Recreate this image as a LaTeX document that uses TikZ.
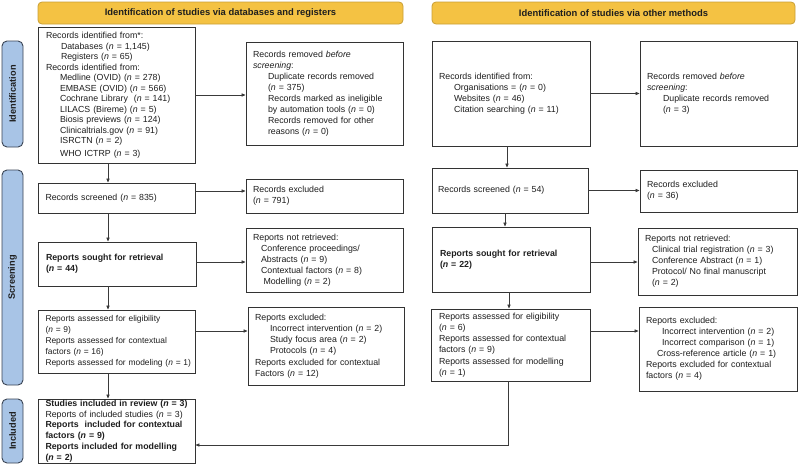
\documentclass[tikz,border=0pt]{standalone}
\usepackage{fontspec}
\setmainfont{Liberation Sans}
\usetikzlibrary{arrows.meta,calc}
\definecolor{hdrfill}{HTML}{F4C243}
\definecolor{hdrdraw}{HTML}{C99F35}
\definecolor{sidefill}{HTML}{A8C4E6}
\definecolor{sidedraw}{HTML}{3A4454}
\definecolor{boxdraw}{HTML}{333333}
\definecolor{txt}{HTML}{1E1E1E}
\definecolor{arrcol}{HTML}{3A3A3A}
\newcommand{\nn}{\textit{n}}
\begin{document}
\begin{tikzpicture}[x=1pt,y=-1pt,
  every node/.style={text=txt},
  hdr/.style={draw=hdrdraw, fill=hdrfill, line width=0.8pt, rounded corners=4pt,
    minimum height=22pt, inner sep=0pt, font=\fontsize{9.4}{11}\selectfont\bfseries},
  side/.style={draw=sidedraw, fill=sidefill, line width=0.9pt, rounded corners=5pt,
    minimum height=21pt, inner sep=0pt, rotate=90, font=\fontsize{9.2}{11}\selectfont\bfseries},
  box/.style={draw=boxdraw, fill=white, line width=0.9pt, inner sep=0pt, align=left,
    font=\fontsize{8.8}{11}\selectfont},
  arr/.style={draw=arrcol, line width=0.7pt, -{Triangle[length=4pt,width=3.2pt]}}]
\useasboundingbox (0,0) rectangle (799,474);

% headers
\node[hdr, minimum width=365pt] (h1) at (220.5,13) {Identification of studies via databases and registers};
\node[hdr, minimum width=363pt] (h2) at (613.5,13) {Identification of studies via other methods};

% side bars
\node[side, minimum width=106pt] (sid) at (12.5,94) {Identification};
\node[side, minimum width=215pt] (ssc) at (12.5,277.5) {Screening};
\node[side, minimum width=64pt] (sin) at (12.5,431) {Included};

% left column
\node[box, minimum width=157pt, minimum height=136pt, text width=141pt,
  font=\fontsize{8.8}{10.5}\selectfont] (b1) at (116.5,95) {Records identified from*:\\
\hspace*{15pt}Databases (\nn{} = 1,145)\\
\hspace*{15pt}Registers (\nn{} = 65)\\
Records identified from:\\
\hspace*{14pt}Medline (OVID) (\nn{} = 278)\\
\hspace*{14pt}EMBASE (OVID) (\nn{} = 566)\\
\hspace*{14pt}Cochrane Library\ \ (\nn{} = 141)\\
\hspace*{14pt}LILACS (Bireme) (\nn{} = 5)\\
\hspace*{14pt}Biosis previews (\nn{} = 124)\\
\hspace*{14pt}Clinicaltrials.gov (\nn{} = 91)\\
\hspace*{14pt}ISRCTN (\nn{} = 2)\\[2pt]
\hspace*{14pt}WHO ICTRP (\nn{} = 3)};

\node[box, minimum width=157pt, minimum height=30pt, text width=142pt] (scr) at (116.5,198) {Records screened (\nn{} = 835)};

\node[box, minimum width=158pt, minimum height=44pt, text width=142pt] (sgt) at (117,264) {\textbf{Reports sought for retrieval}\\\textbf{(\nn{} = 44)}};

\node[box, minimum width=157pt, minimum height=63pt, text width=142pt,
  font=\fontsize{8.4}{11}\selectfont] (ass) at (116.5,341.5) {Reports assessed for eligibility\\
(\nn{} = 9)\\
Reports assessed for contextual\\
factors (\nn{} = 16)\\
\mbox{Reports assessed for modeling (\nn{} = 1)}};

\node[box, minimum width=157pt, minimum height=64pt, text width=142pt,
  font=\fontsize{8.8}{10.8}\selectfont] (inc) at (116.5,431) {\mbox{\textbf{Studies included in review (\nn{} = 3)}}\\
Reports of included studies (\nn{} = 3)\\
\mbox{\textbf{Reports\ \ included for contextual}}\\
\textbf{factors (\nn{} = 9)}\\
\mbox{\textbf{Reports included for modelling}}\\
\textbf{(\nn{} = 2)}};

% left second column
\node[box, minimum width=157pt, minimum height=103pt, text width=143pt] (rem) at (324.5,93.5) {Records removed \textit{before}\\
\textit{screening}:\\
\hspace*{15pt}Duplicate records removed\\
\hspace*{15pt}(\nn{} = 375)\\
\hspace*{15pt}Records marked as ineligible\\
\hspace*{15pt}by automation tools (\nn{} = 0)\\
\hspace*{15pt}Records removed for other\\
\hspace*{15pt}reasons (\nn{} = 0)};

\node[box, minimum width=157pt, minimum height=34pt, text width=143pt] (exc) at (324.5,196) {Records excluded\\(\nn{} = 791)\\[3pt]};

\node[box, minimum width=157pt, minimum height=64pt, text width=143pt] (nrt) at (324.5,260) {Reports not retrieved:\\
\hspace*{8pt}Conference proceedings/\\
\hspace*{8pt}Abstracts (\nn{} = 9)\\
\hspace*{8pt}Contextual factors (\nn{} = 8)\\
\hspace*{10.5pt}Modelling (\nn{} = 2)};

\node[box, minimum width=156pt, minimum height=78pt, text width=142pt,
  font=\fontsize{8.8}{11.3}\selectfont] (rex) at (326,346) {Reports excluded:\\
\hspace*{15pt}Incorrect intervention (\nn{} = 2)\\
\hspace*{15pt}Study focus area (\nn{} = 2)\\
\hspace*{15pt}Protocols (\nn{} = 4)\\
Reports excluded for contextual\\
Factors (\nn{} = 12)};

% right column
\node[box, minimum width=158pt, minimum height=105pt, text width=144pt] (r1) at (511,93.5) {Records identified from:\\
\hspace*{15pt}Organisations = (\nn{} = 0)\\
\hspace*{15pt}Websites (\nn{} = 46)\\
\hspace*{15pt}Citation searching (\nn{} = 11)\\[16pt]};

\node[box, minimum width=156pt, minimum height=45pt, text width=144pt] (rscr) at (510,190.5) {Records screened (\nn{} = 54)};

\node[box, minimum width=158pt, minimum height=65pt, text width=142pt] (rsgt) at (511,259.5) {\textbf{Reports sought for retrieval}\\\textbf{(\nn{} = 22)}};

\node[box, minimum width=159pt, minimum height=72pt, text width=143pt,
  font=\fontsize{8.8}{11.2}\selectfont] (rass) at (510.5,345) {Reports assessed for eligibility\\
(\nn{} = 6)\\
Reports assessed for contextual\\
factors (\nn{} = 9)\\
Reports assessed for modelling\\
(\nn{} = 1)};

% right second column
\node[box, minimum width=157pt, minimum height=105pt, text width=143pt] (rrem) at (718.5,93.5) {Records removed \textit{before}\\
\textit{screening}:\\
\hspace*{16pt}Duplicate records removed\\
\hspace*{16pt}(\nn{} = 3)\\[16pt]};

\node[box, minimum width=157pt, minimum height=42pt, text width=143pt] (rexc) at (718.5,191) {Records excluded\\(\nn{} = 36)};

\node[box, minimum width=159pt, minimum height=67pt, text width=145pt] (rnrt) at (717.5,261.5) {Reports not retrieved:\\
\hspace*{7pt}Clinical trial registration (\nn{} = 3)\\
\hspace*{7pt}Conference Abstract (\nn{} = 1)\\
\hspace*{7pt}Protocol/ No final manuscript\\
\hspace*{7pt}(\nn{} = 2)};

\node[box, minimum width=158pt, minimum height=84pt, text width=144pt] (rrex) at (718,349) {Reports excluded:\\
\hspace*{16pt}Incorrect intervention (\nn{} = 2)\\
\hspace*{16pt}Incorrect comparison (\nn{} = 1)\\
\hspace*{11pt}Cross-reference article (\nn{} = 1)\\
Reports excluded for contextual\\
factors (\nn{} = 4)};

% connectors left
\draw[arr] ([xshift=-8.5pt]b1.south) -- ([xshift=-8.5pt]b1.south |- scr.north);
\draw[arr] ([xshift=-8.5pt]scr.south) -- ([xshift=-8.5pt]scr.south |- sgt.north);
\draw[arr] ([xshift=-9pt]sgt.south) -- ([xshift=-9pt]sgt.south |- ass.north);
\draw[arr] ([xshift=-8.5pt]ass.south) -- ([xshift=-8.5pt]ass.south |- inc.north);
\draw[arr] (b1.east) -- (b1.east -| rem.west);
\draw[arr] ([yshift=7pt]scr.east) -- ([yshift=7pt]scr.east -| exc.west);
\draw[arr] ([yshift=2pt]sgt.east) -- ([yshift=2pt]sgt.east -| nrt.west);
\draw[arr] ([yshift=10.5pt]ass.east) -- ([yshift=10.5pt]ass.east -| rex.west);

% connectors right
\draw[arr] ([xshift=-4pt]r1.south) -- ([xshift=-4pt]r1.south |- rscr.north);
\draw[arr] ([xshift=-5pt]rscr.south) -- ([xshift=-5pt]rscr.south |- rsgt.north);
\draw[arr] ([xshift=-2pt]rsgt.south) -- ([xshift=-2pt]rsgt.south |- rass.north);
\draw[arr] (r1.east) -- (r1.east -| rrem.west);
\draw[arr] (rscr.east) -- (rscr.east -| rexc.west);
\draw[arr] ([yshift=-2.5pt]rsgt.east) -- ([yshift=-2.5pt]rsgt.east -| rnrt.west);
\draw[arr] ([yshift=14pt]rass.east) -- ([yshift=14pt]rass.east -| rrex.west);
\draw[arr] ([xshift=-2.5pt]rass.south) |- ([yshift=-14pt]inc.east);
\end{tikzpicture}
\end{document}
